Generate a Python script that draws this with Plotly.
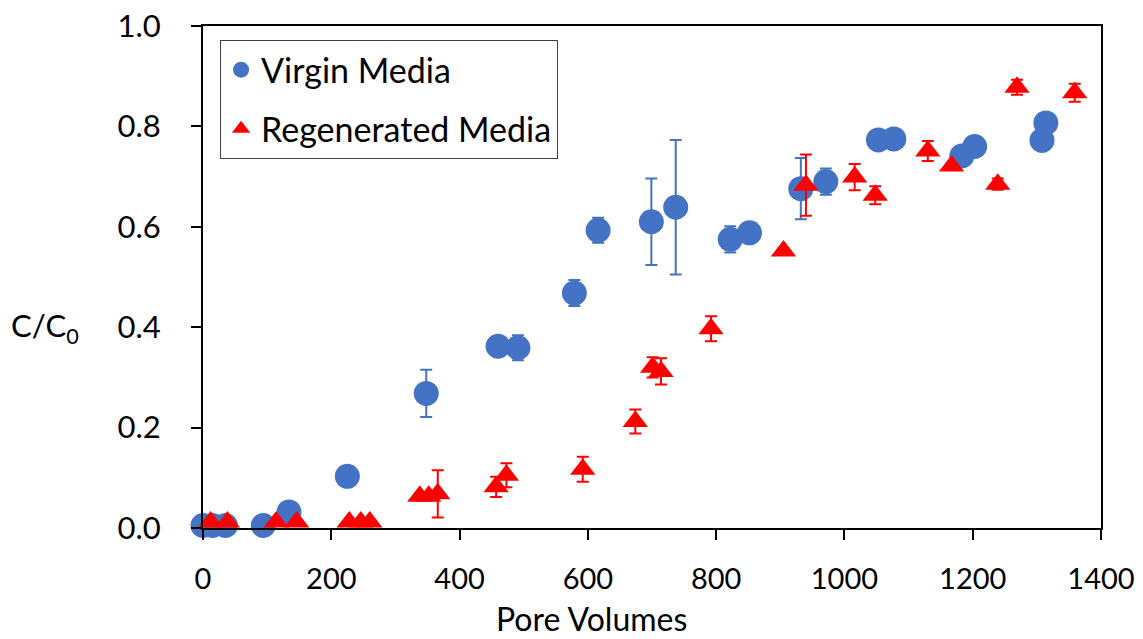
import plotly.graph_objects as go

# Virgin Media
virgin_x = [0, 15, 35, 94, 134, 225, 348, 460, 491, 579, 616, 699, 737, 822, 852, 932, 971, 1053, 1077, 1183, 1203, 1308, 1314]
virgin_y = [0.005, 0.005, 0.005, 0.005, 0.032, 0.103, 0.268, 0.362, 0.359, 0.468, 0.593, 0.610, 0.639, 0.575, 0.588, 0.676, 0.690, 0.773, 0.775, 0.741, 0.760, 0.772, 0.807]
virgin_err = [0, 0, 0, 0, 0, 0, 0.047, 0.01, 0.025, 0.026, 0.025, 0.086, 0.134, 0.026, 0.01, 0.061, 0.026, 0.01, 0.01, 0.01, 0.01, 0.01, 0.01]

# Regenerated Media
regen_x = [12, 38, 114, 146, 228, 246, 260, 338, 352, 366, 457, 473, 592, 674, 701, 714, 792, 905, 940, 1016, 1048, 1130, 1167, 1239, 1269, 1359]
regen_y = [0.012, 0.012, 0.012, 0.012, 0.012, 0.012, 0.012, 0.063, 0.063, 0.068, 0.082, 0.105, 0.117, 0.212, 0.320, 0.312, 0.397, 0.552, 0.683, 0.699, 0.663, 0.751, 0.721, 0.685, 0.878, 0.867]
regen_err = [0, 0, 0, 0, 0, 0, 0, 0, 0, 0.047, 0.02, 0.024, 0.025, 0.024, 0.02, 0.026, 0.025, 0.005, 0.061, 0.026, 0.018, 0.02, 0.005, 0.011, 0.015, 0.018]

x_ticks = [0, 200, 400, 600, 800, 1000, 1200, 1400]
y_ticks = [0.0, 0.2, 0.4, 0.6, 0.8, 1.0]

BLUE = "#4472C4"
RED = "#FF0000"
FONT = "Lato"

fig = go.Figure()
fig.add_trace(go.Scatter(
    x=virgin_x, y=virgin_y, mode="markers", name="Virgin Media",
    legendgroup="v",
    marker=dict(symbol="circle", size=25, color=BLUE),
    error_y=dict(type="data", array=virgin_err, visible=True, color=BLUE, thickness=2, width=6),
    cliponaxis=False,
))
fig.add_trace(go.Scatter(
    x=regen_x, y=regen_y, mode="markers", name="Regenerated Media",
    legendgroup="r",
    marker=dict(symbol="triangle-up", size=22, color=RED),
    error_y=dict(type="data", array=regen_err, visible=True, color=RED, thickness=2, width=6),
    cliponaxis=False,
))

fig.update_layout(
    width=1143, height=639,
    margin=dict(l=203, r=42, t=26, b=111, autoexpand=False),
    plot_bgcolor="white", paper_bgcolor="white",
    font=dict(family=FONT, size=30, color="black"),
    showlegend=True,
    legend=dict(
        x=0.019, y=0.972, xanchor="left", yanchor="top",
        bordercolor="#404040", borderwidth=1, bgcolor="white",
        font=dict(size=34, family=FONT),
        traceorder="grouped", tracegroupgap=12,
    ),
    xaxis=dict(
        range=[0, 1400], tickvals=x_ticks, ticktext=[str(v) for v in x_ticks],
        showgrid=False, zeroline=False, automargin=False,
        showline=True, linecolor="black", linewidth=2, mirror=True,
        ticks="outside", ticklen=10, tickwidth=2, tickcolor="black",
        tickfont=dict(size=29, family=FONT),
        ticklabelstandoff=14,
    ),
    yaxis=dict(
        range=[0, 1.0], tickvals=y_ticks, ticktext=["%.1f" % v for v in y_ticks],
        showgrid=False, zeroline=False, automargin=False,
        showline=True, linecolor="black", linewidth=2, mirror=True,
        ticks="outside", ticklen=10, tickwidth=2, tickcolor="black",
        tickfont=dict(size=31, family=FONT),
        ticklabelstandoff=24,
    ),
    annotations=[
        dict(text="C/C<sub>0</sub>", xref="paper", yref="paper", x=-0.176, y=0.4,
             xanchor="center", yanchor="middle", showarrow=False,
             font=dict(size=31, family=FONT)),
        dict(text="Pore Volumes", xref="paper", yref="paper", x=0.433, y=-0.18,
             xanchor="center", yanchor="middle", showarrow=False,
             font=dict(size=32, family=FONT)),
    ],
)

fig.write_html("out.html")
